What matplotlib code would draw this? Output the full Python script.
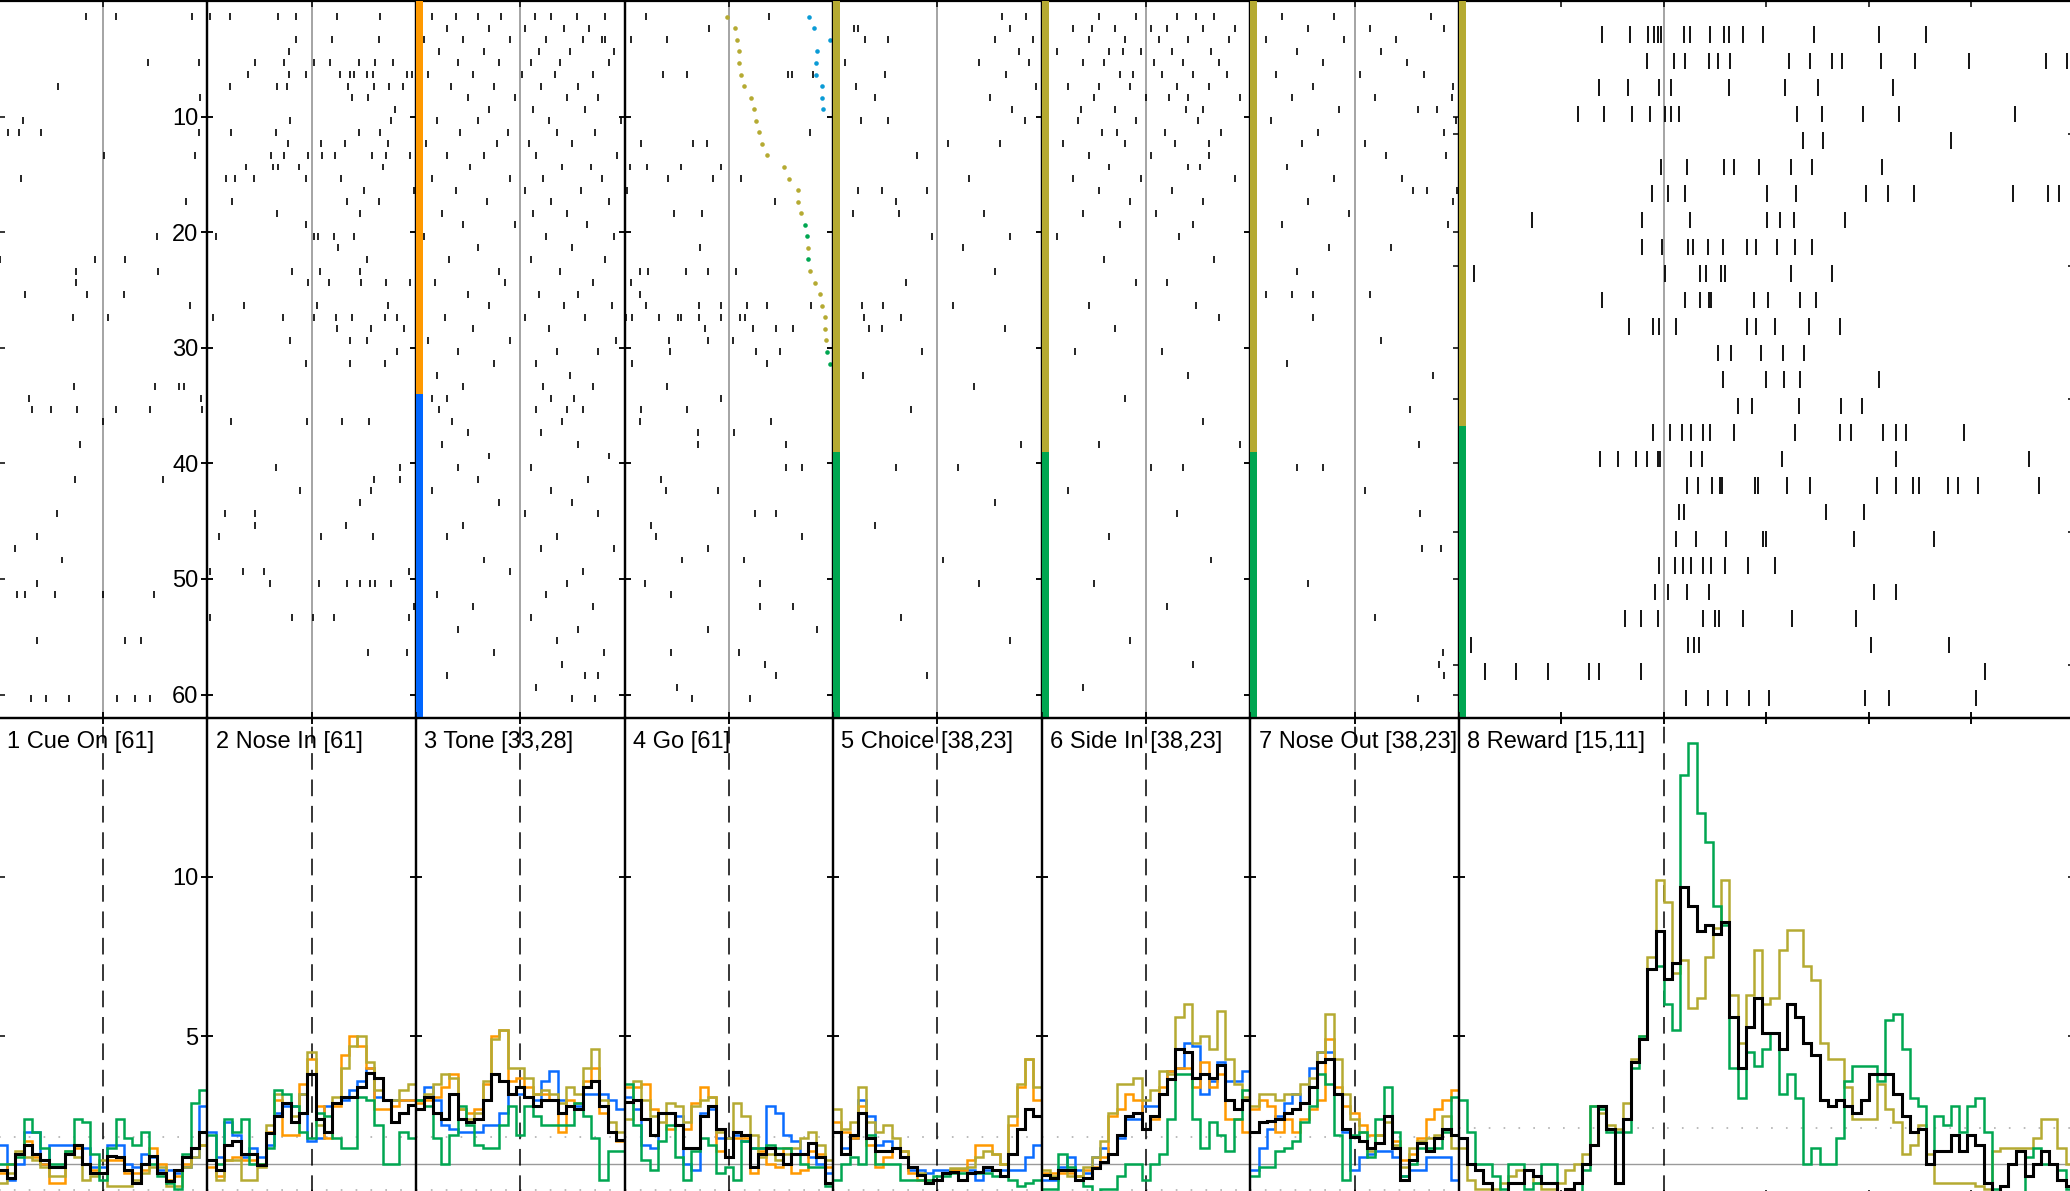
import numpy as np
import matplotlib.pyplot as plt

plt.rcParams['font.family'] = ['Liberation Sans', 'DejaVu Sans']
plt.rcParams['lines.scale_dashes'] = False

W, H = 2070, 1191

panel_titles = ['1 Cue On [61]', '2 Nose In [61]', '3 Tone [33,28]', '4 Go [61]',
                '5 Choice [38,23]', '6 Side In [38,23]', '7 Nose Out [38,23]', '8 Reward [15,11]']
n_trials = [61, 61, 61, 61, 61, 61, 61, 26]
# colour bar split (first group ends at this y) per panel
bar_split = [None, None, 34, None, 39, 39, 39, 16]
bar_colors = [None, None, ('#ff9900', '#0066ff'), None,
              ('#b5aa32', '#00a651'), ('#b5aa32', '#00a651'), ('#b5aa32', '#00a651'), ('#b5aa32', '#00a651')]

c_blue, c_orange, c_olive, c_green = '#0a6cff', '#ff9900', '#b5aa32', '#00a651'

# ---------------- raster spike times (s, relative to event) ----------------
cue_spikes = {1: [-0.16, 0.12, 0.85], 5: [0.43, 0.92], 7: [-0.43], 8: [0.93], 10: [-0.77],
              11: [-0.91, -0.81, -0.59, 0.92], 13: [0.01, 0.88], 15: [-0.79], 17: [0.80], 20: [0.52],
              22: [-0.99, -0.08, 0.21], 23: [-0.26, 0.53], 24: [-0.26], 25: [-0.75, -0.15, 0.20],
              26: [0.83], 27: [-0.29, 0.05], 33: [-0.28, 0.50, 0.73, 0.78], 34: [-0.71, 0.94],
              35: [-0.68, -0.50, -0.25, 0.12, 0.45, 0.95], 36: [0.0], 38: [-0.22], 41: [-0.27, 0.58],
              44: [-0.44], 46: [-0.63], 47: [-0.84], 48: [-0.39], 50: [-0.63],
              51: [-0.82, -0.75, -0.46, 0.0, 0.49], 55: [-0.63, 0.21, 0.36],
              60: [-0.69, -0.55, -0.33, 0.13, 0.31, 0.45]}

nosein_spikes = {1: [-0.97, -0.78, -0.32, -0.15, 0.24, 0.66], 3: [-0.15, 0.20, 0.65], 4: [-0.22],
                 5: [-0.54, -0.26, 0.02, 0.18, 0.45, 0.61, 0.78],
                 6: [-0.61, -0.22, -0.05, 0.27, 0.37, 0.41, 0.53, 0.59, 0.91, 0.96],
                 7: [-0.78, -0.33, -0.24, 0.35, 0.60, 0.74, 0.88], 8: [0.39, 0.54], 9: [0.80],
                 10: [-0.21, 0.76], 11: [-0.77, -0.34, 0.45, 0.66], 12: [-0.23, 0.09, 0.32, 0.73],
                 13: [-0.39, -0.26, -0.03, 0.10, 0.22, 0.58, 0.71, 0.94],
                 14: [-0.63, -0.37, -0.32, -0.12, 0.68], 15: [-0.82, -0.73, -0.55, -0.05, 0.28],
                 16: [0.50, 0.98], 17: [-0.76, 0.34, 0.65], 18: [-0.33, 0.46], 19: [-0.05],
                 20: [-0.92, 0.02, 0.06, 0.21, 0.41], 21: [0.25], 22: [0.53], 23: [-0.19, 0.08, 0.46],
                 24: [-0.03, 0.17, 0.47, 0.71, 0.94], 26: [-0.65, 0.05, 0.73],
                 27: [-0.95, -0.27, 0.02, 0.23, 0.39, 0.70, 0.82], 28: [0.24, 0.57, 0.89],
                 29: [-0.21, 0.37, 0.53], 30: [0.82], 31: [-0.05, 0.37, 0.70],
                 36: [-0.77, -0.04, 0.29, 0.55], 40: [-0.34, 0.85], 41: [0.60, 0.85], 42: [-0.11, 0.57],
                 43: [0.46], 44: [-0.83, -0.54], 45: [-0.54, 0.33], 46: [-0.89, 0.09, 0.59],
                 49: [-0.97, -0.66, -0.46, 0.93], 50: [-0.40, 0.07, 0.34, 0.46, 0.56, 0.61, 0.76],
                 52: [0.98], 53: [-0.97, -0.19, 0.01, 0.21, 0.93], 56: [0.54, 0.91]}

tone_spikes = {1: [-0.85, -0.62, -0.40, -0.18, 0.14, 0.30, 0.54, 0.81], 2: [-0.70, -0.30, 0.05, 0.42, 0.66],
               3: [-0.92, -0.55, -0.10, 0.25, 0.60, 0.78, 0.81], 4: [-0.78, -0.35, 0.18, 0.48, 0.90],
               5: [-0.60, -0.20, 0.10, 0.38, 0.85], 6: [-0.88, -0.45, 0.02, 0.33, 0.70],
               7: [-0.66, -0.25, 0.20, 0.55], 8: [-0.95, -0.50, -0.05, 0.45, 0.75], 9: [-0.30, 0.12, 0.62],
               10: [-0.80, -0.40, 0.28, 0.97], 11: [-0.58, -0.12, 0.35, 0.72], 12: [-0.90, -0.22, 0.08, 0.50],
               13: [-0.70, -0.35, 0.15, 0.93], 14: [-0.48, 0.40, 0.68], 15: [-0.85, -0.10, 0.22, 0.78],
               16: [-0.62, 0.05, 0.58], 17: [-0.32, 0.30, 0.85], 18: [-0.75, 0.12, 0.45],
               19: [-0.55, -0.05, 0.64], 20: [-0.92, 0.25, 0.90], 21: [-0.40, 0.50], 22: [-0.68, 0.10, 0.81],
               23: [-0.20, 0.38], 24: [-0.82, -0.15, 0.70], 25: [-0.50, 0.18, 0.55], 26: [-0.30, 0.42, 0.88],
               27: [-0.72, 0.05, 0.62], 28: [-0.45, 0.28], 29: [-0.88, -0.10, 0.92], 30: [-0.60, 0.35, 0.75],
               31: [-0.25, 0.15], 32: [-0.80, 0.48], 33: [-0.55, 0.22, 0.70], 34: [-0.85, -0.70, 0.30, 0.52],
               35: [-0.78, 0.15, 0.45, 0.60], 36: [-0.65, 0.40], 37: [-0.50, 0.20], 38: [-0.75, 0.55],
               39: [-0.30, 0.85], 40: [-0.60, 0.10], 41: [-0.40, 0.65], 42: [-0.85, 0.30], 43: [-0.20, 0.50],
               44: [0.05, 0.75], 45: [-0.55], 46: [-0.70, 0.35], 47: [0.20, 0.90], 48: [-0.35],
               49: [-0.10, 0.60], 50: [0.45], 51: [-0.80, 0.25], 52: [-0.45, 0.70], 53: [0.10],
               54: [-0.60, 0.55], 55: [0.35], 56: [-0.25, 0.80], 57: [0.40], 58: [-0.70, 0.62, 0.75],
               59: [0.15], 60: [0.50, 0.72]}

go_spikes = {1: [-0.79, 0.39], 2: [-0.19], 3: [-0.94, -0.59], 6: [-0.63, -0.40, 0.57, 0.61, 0.81],
             11: [0.78], 12: [-0.84, -0.34, -0.21], 14: [-0.95, -0.78, -0.46, -0.07],
             15: [-0.58, -0.15, 0.12], 16: [-0.98], 17: [0.44], 18: [-0.53, -0.26], 21: [-0.28],
             23: [-0.85, -0.77, -0.41, -0.20, 0.07], 24: [-0.94], 25: [-0.85],
             26: [-0.79, -0.29, -0.07, 0.17, 0.37, 0.79],
             27: [-0.99, -0.93, -0.67, -0.49, -0.46, -0.29, -0.07, 0.11, 0.16],
             28: [-0.23, 0.23, 0.45, 0.62], 29: [-0.57, -0.20, 0.04], 30: [-0.56, 0.26, 0.49],
             31: [-0.93, 0.37], 33: [-0.59], 34: [-0.07], 35: [-0.84, -0.40], 36: [-0.85, 0.40],
             37: [-0.30, 0.05], 38: [-0.30, 0.55], 40: [0.55, 0.70], 41: [-0.65], 42: [-0.60, -0.10],
             44: [0.25, 0.45], 45: [-0.75], 46: [-0.70, 0.70], 47: [-0.20], 48: [-0.45, 0.15],
             50: [-0.80, 0.30], 51: [-0.55], 52: [0.30, 0.62], 54: [-0.20, 0.85], 56: [-0.55, 0.10],
             57: [0.35], 58: [0.45], 59: [-0.50], 60: [-0.35, 0.20]}

choice_spikes = {1: [0.62, 0.85], 2: [-0.80, -0.76, 0.70], 3: [-0.69, -0.47, 0.55, 0.92], 4: [0.78],
                 5: [-0.89, 0.40, 0.88], 6: [-0.50, 0.66], 7: [-0.78, 0.95], 8: [-0.60, 0.50], 9: [0.72],
                 10: [-0.73, -0.47, 0.84], 12: [0.10, 0.60], 13: [-0.20], 15: [0.30],
                 16: [-0.76, -0.53, -0.10], 17: [-0.40], 18: [-0.81, -0.37, 0.45], 20: [-0.05, 0.70],
                 21: [0.25], 23: [0.55], 24: [-0.30], 25: [-0.94], 26: [-0.72, -0.52, 0.15],
                 27: [-0.70, -0.35], 28: [-0.66, -0.53, 0.65], 30: [-0.15], 32: [-0.71], 33: [0.35],
                 35: [-0.25], 38: [0.80], 40: [-0.40, 0.20], 43: [0.55], 45: [-0.60], 48: [0.05],
                 50: [0.40], 53: [-0.35], 55: [0.70], 58: [-0.10]}

sidein_spikes = {1: [-0.45, -0.10, 0.30, 0.48, 0.65], 2: [-0.70, -0.52, -0.30, 0.05, 0.20, 0.55, 0.85],
                 3: [-0.55, -0.20, 0.12, 0.40, 0.80], 4: [-0.85, -0.35, -0.22, -0.05, 0.25, 0.62],
                 5: [-0.60, -0.40, 0.08, 0.35, 0.70], 6: [-0.25, -0.12, 0.15, 0.45, 0.78],
                 7: [-0.75, -0.45, -0.15, 0.30, 0.60], 8: [-0.50, 0.00, 0.22, 0.40, 0.90],
                 9: [-0.62, -0.30, 0.38, 0.55], 10: [-0.65, -0.10, 0.50],
                 11: [-0.42, -0.28, 0.18, 0.72], 12: [-0.80, -0.20, 0.28, 0.60], 13: [-0.55, 0.05, 0.60],
                 14: [-0.35, 0.40, 0.52], 15: [-0.70, -0.05, 0.85], 16: [-0.45, 0.25], 17: [-0.15, 0.55],
                 18: [-0.60, 0.10], 19: [-0.25, 0.45], 20: [-0.85, 0.32], 22: [-0.40, 0.65],
                 24: [-0.10, 0.20], 26: [-0.55, 0.48], 27: [0.70], 28: [-0.30], 30: [-0.68, 0.15],
                 32: [0.40], 34: [-0.20], 36: [0.55], 38: [-0.45, 0.90], 40: [0.05, 0.35], 42: [-0.75],
                 44: [0.30], 46: [-0.35], 48: [0.62], 50: [-0.50], 52: [0.20], 55: [-0.15], 57: [0.45],
                 59: [-0.60]}

noseout_spikes = {1: [-0.70, -0.20, 0.73], 2: [-0.45, 0.15, 0.86], 3: [-0.85, -0.10, 0.40],
                  4: [-0.55, 0.25], 5: [-0.30, 0.50], 6: [-0.75, 0.05, 0.67], 7: [-0.40, 0.94],
                  8: [-0.60, 0.20, 0.93], 9: [-0.15, 0.61, 0.79], 10: [-0.80, 0.97], 11: [-0.35, 0.86],
                  12: [-0.50, 0.10], 13: [0.30, 0.88], 14: [-0.65], 15: [-0.20, 0.45],
                  16: [0.56, 0.69, 0.98], 17: [-0.45, 0.94], 18: [-0.05], 19: [-0.70, 0.90],
                  21: [-0.25, 0.35], 23: [-0.55], 25: [-0.85, -0.60, -0.40, 0.15], 27: [-0.40],
                  29: [0.25], 31: [-0.65], 32: [0.75], 35: [0.53], 38: [0.62], 40: [-0.30, -0.55],
                  42: [0.10], 44: [0.63], 47: [0.65, 0.83], 50: [-0.45], 53: [0.20], 56: [0.85],
                  57: [0.81], 58: [0.86], 60: [0.61]}

reward_spikes = {1: [-0.60, -0.33, -0.15, -0.10, -0.06, -0.03, 0.20, 0.26, 0.45, 0.59, 0.64, 0.77, 0.97, 1.47, 2.10, 2.56],
                 2: [-0.16, 0.10, 0.21, 0.44, 0.53, 0.65, 1.22, 1.43, 1.64, 1.74, 2.12, 2.45, 2.98, 3.73, 3.93],
                 3: [-0.63, -0.35, -0.05, 0.07, 0.64, 1.18, 1.50, 2.24],
                 4: [-0.84, -0.58, -0.31, -0.13, 0.01, 0.07, 0.15, 1.30, 1.54, 1.94, 2.29, 3.43],
                 5: [1.36, 1.55, 2.80],
                 6: [-0.03, 0.23, 0.59, 0.68, 0.93, 1.24, 1.45, 2.13],
                 7: [-0.12, 0.04, 0.21, 1.01, 1.29, 1.97, 2.19, 2.44, 3.41, 3.75, 3.86],
                 8: [-1.29, -0.21, 0.26, 1.01, 1.13, 1.27, 1.77],
                 9: [-0.21, -0.02, 0.24, 0.28, 0.43, 0.58, 0.81, 0.90, 1.10, 1.28, 1.45],
                 10: [-1.85, 0.01, 0.35, 0.41, 0.56, 0.60, 1.24, 1.64],
                 11: [-0.60, 0.21, 0.35, 0.44, 0.46, 0.88, 1.02, 1.33, 1.48],
                 12: [-0.34, -0.11, -0.05, 0.12, 0.81, 0.90, 1.08, 1.42, 1.72],
                 13: [0.53, 0.66, 0.95, 1.16, 1.37],
                 14: [0.58, 1.00, 1.17, 1.33, 2.10],
                 15: [0.72, 0.86, 1.32, 1.73, 1.93],
                 16: [-0.11, 0.06, 0.18, 0.27, 0.38, 0.45, 0.68, 1.28, 1.72, 1.83, 2.14, 2.27, 2.36, 2.93],
                 17: [-0.62, -0.45, -0.27, -0.16, -0.06, -0.04, 0.27, 0.37, 1.15, 2.27, 3.56],
                 18: [0.23, 0.33, 0.47, 0.55, 0.57, 0.89, 0.92, 1.20, 1.43, 2.08, 2.27, 2.43, 2.49, 2.77, 2.87, 3.07, 3.66],
                 19: [0.15, 0.20, 1.58, 1.95],
                 20: [0.12, 0.31, 0.61, 0.97, 1.00, 1.86, 2.64],
                 21: [-0.05, 0.11, 0.19, 0.27, 0.38, 0.46, 0.60, 0.82, 1.08],
                 22: [-0.09, 0.04, 0.23, 0.44, 2.05, 2.27],
                 23: [-0.38, -0.22, -0.06, 0.38, 0.50, 0.54, 0.77, 1.25, 1.88],
                 24: [-1.88, 0.24, 0.29, 0.34, 2.02, 2.78],
                 25: [-1.74, -1.44, -1.13, -0.73, -0.63, -0.22, 3.13],
                 26: [0.22, 0.43, 0.62, 0.83, 1.03, 1.96, 2.20, 3.05]}

raster_data = [cue_spikes, nosein_spikes, tone_spikes, go_spikes,
               choice_spikes, sidein_spikes, noseout_spikes, reward_spikes]

# event markers in the Go panel (trial -> time)
go_dots_olive = {1: -0.02, 2: 0.06, 3: 0.08, 4: 0.10, 5: 0.10, 6: 0.12, 7: 0.15, 8: 0.21, 9: 0.24,
                 10: 0.26, 11: 0.29, 12: 0.32, 13: 0.37, 14: 0.53, 15: 0.58, 16: 0.66, 17: 0.66,
                 18: 0.69, 21: 0.76, 23: 0.78, 24: 0.83, 25: 0.87, 26: 0.89, 27: 0.92, 28: 0.92, 29: 0.93}
go_dots_green = {19: 0.73, 20: 0.75, 22: 0.76, 30: 0.94, 31: 0.97}
go_dots_blue = {1: 0.77, 2: 0.82, 3: 0.97, 4: 0.85, 5: 0.84, 6: 0.84, 7: 0.89, 8: 0.89, 9: 0.90}

# ---------------- PSTH (Hz), 0.08 s bins ----------------
psth_black = [
    [0.8, 0.55, 1.3, 1.6, 1.3, 1.1, 0.9, 0.9, 1.3, 1.6, 1.0, 0.7, 0.7, 1.25, 1.2, 0.8, 0.4, 1.0, 1.25, 0.7, 0.45, 0.8, 1.2, 1.5, 2.0],
    [1.1, 0.8, 1.6, 1.7, 1.3, 1.3, 0.95, 1.95, 2.5, 2.9, 2.3, 2.6, 3.8, 2.4, 2.0, 2.9, 3.1, 3.1, 3.4, 3.85, 3.7, 3.0, 2.3, 2.6, 2.85],
    [2.7, 3.1, 2.6, 2.4, 3.2, 2.4, 2.3, 2.4, 3.0, 3.8, 3.6, 3.2, 3.4, 3.1, 2.8, 3.0, 3.0, 2.6, 2.8, 2.7, 3.4, 3.6, 2.8, 2.0, 1.75],
    [2.95, 3.0, 2.4, 1.9, 2.6, 2.6, 2.2, 1.5, 1.5, 2.5, 2.8, 2.1, 1.2, 2.0, 1.9, 0.9, 1.3, 1.5, 1.3, 1.0, 1.3, 1.3, 1.65, 1.2, 0.4],
    [2.0, 1.3, 1.9, 2.6, 1.8, 1.4, 1.4, 1.5, 1.2, 0.9, 0.65, 0.4, 0.5, 0.7, 0.75, 0.5, 0.7, 0.75, 0.9, 0.8, 0.6, 1.3, 2.1, 2.7, 2.5],
    [0.65, 0.55, 0.8, 0.8, 0.5, 0.55, 0.85, 1.05, 1.3, 1.9, 2.5, 2.6, 2.1, 2.5, 3.2, 3.65, 4.6, 4.5, 3.7, 3.8, 3.7, 4.1, 3.0, 2.7, 3.0],
    [2.0, 2.3, 2.35, 2.4, 2.6, 2.7, 2.9, 3.4, 4.2, 4.3, 3.2, 2.1, 1.85, 1.7, 1.5, 1.65, 2.5, 1.5, 0.5, 1.1, 1.65, 1.4, 1.8, 2.1, 1.9],
    [1.8, 1.0, 0.8, 0.4, 0.1, 0.1, 0.4, 0.4, 0.8, 0.6, 0.4, 0.4, 0.1, 0.2, 0.4, 1.0, 1.6, 2.8, 2.1, 0.4, 2.4, 4.2, 4.9, 7.1, 8.3,
     6.8, 7.3, 9.7, 9.1, 8.3, 8.5, 8.2, 8.6, 5.6, 4.0, 5.3, 6.2, 5.1, 5.1, 4.6, 6.0, 5.6, 4.8, 4.4, 3.0, 2.8, 3.0, 2.8, 2.6, 3.0,
     3.8, 3.8, 3.8, 3.2, 2.5, 2.0, 2.1, 1.0, 1.4, 1.4, 1.9, 1.4, 1.9, 1.6, 0.4, 0.1, 0.3, 1.0, 1.4, 0.6, 1.0, 1.4, 1.0, 0.5, 0.3]]
psth_orange = [
    [0.7, 1.0, 1.3, 1.7, 1.2, 1.0, 0.4, 0.4, 1.3, 1.5, 1.0, 0.8, 0.7, 1.1, 1.1, 0.7, 0.7, 0.8, 1.5, 1.0, 0.5, 0.6, 1.0, 1.5, 1.6],
    [0.9, 0.6, 1.1, 1.2, 1.1, 1.1, 1.0, 2.0, 3.0, 1.9, 1.9, 3.5, 4.3, 2.8, 1.8, 2.8, 4.4, 5.0, 4.7, 4.0, 2.7, 2.7, 2.8, 3.0, 3.0],
    [2.9, 3.0, 3.1, 3.4, 3.8, 2.7, 2.6, 2.7, 3.5, 5.0, 5.2, 3.6, 3.7, 3.4, 3.2, 3.2, 3.0, 2.0, 3.0, 2.9, 3.6, 4.0, 2.6, 2.0, 1.7],
    [3.4, 3.4, 3.5, 2.7, 2.6, 2.1, 2.2, 2.1, 2.9, 3.4, 3.1, 1.4, 1.2, 1.8, 1.8, 0.7, 1.4, 1.0, 0.9, 1.5, 0.7, 0.8, 1.4, 1.3, 0.9],
    [2.3, 2.0, 1.8, 2.8, 1.6, 0.9, 1.2, 1.5, 1.4, 0.7, 0.5, 0.5, 0.5, 0.7, 0.8, 0.8, 1.1, 1.6, 1.6, 1.3, 1.0, 2.2, 3.4, 4.3, 3.0],
    [0.7, 0.7, 0.7, 0.7, 0.6, 0.8, 0.9, 1.2, 2.5, 2.7, 3.2, 3.0, 2.1, 2.4, 3.4, 3.9, 4.0, 4.0, 3.4, 4.2, 3.4, 3.8, 2.4, 2.4, 2.0],
    [2.7, 3.0, 2.8, 2.0, 2.4, 2.0, 2.4, 2.7, 3.0, 4.9, 3.4, 2.8, 2.6, 2.2, 1.9, 1.9, 2.5, 1.7, 1.1, 1.3, 1.8, 2.4, 2.7, 3.0, 3.3],
    None]
psth_olive = [
    [0.4, 0.7, 1.4, 1.2, 1.1, 0.9, 0.6, 0.6, 1.4, 1.2, 0.5, 0.6, 1.1, 0.3, 0.3, 0.3, 0.5, 0.7, 0.9, 0.9, 0.3, 0.3, 0.9, 1.2, 1.6],
    [1.1, 0.5, 1.1, 1.1, 0.5, 0.5, 0.9, 2.2, 3.2, 2.9, 2.5, 3.2, 4.5, 2.2, 2.0, 3.1, 4.0, 4.7, 5.0, 4.2, 3.3, 3.0, 3.0, 3.3, 3.5],
    [3.0, 3.2, 3.5, 3.8, 3.7, 2.7, 2.4, 2.6, 3.6, 4.9, 5.2, 4.0, 4.0, 3.7, 3.2, 3.3, 3.2, 2.9, 3.4, 3.2, 4.0, 4.6, 3.0, 2.3, 2.0],
    [2.4, 3.6, 3.0, 2.5, 2.3, 2.9, 2.8, 2.3, 2.8, 3.0, 3.1, 2.0, 1.8, 2.9, 2.5, 1.9, 1.2, 1.3, 1.1, 1.3, 1.5, 1.8, 2.0, 1.6, 1.1],
    [2.7, 2.1, 2.3, 3.4, 2.3, 2.0, 2.2, 1.8, 1.4, 0.9, 0.7, 0.5, 0.5, 0.7, 0.85, 0.85, 0.9, 1.2, 1.4, 1.3, 1.0, 2.5, 3.5, 4.3, 3.4],
    [0.8, 0.6, 0.8, 0.6, 0.6, 0.9, 1.2, 1.7, 2.6, 3.5, 3.5, 3.7, 3.0, 3.3, 3.9, 3.8, 5.6, 6.0, 4.8, 5.0, 4.6, 5.8, 4.3, 3.5, 3.1],
    [2.8, 3.2, 3.2, 3.0, 3.2, 3.2, 3.5, 3.7, 4.5, 5.7, 4.3, 3.2, 2.4, 2.0, 1.4, 1.9, 2.3, 1.6, 0.9, 1.5, 1.7, 1.8, 1.9, 2.5, 1.5],
    [1.5, 0.5, 0.2, 0.2, 0.2, 0.4, 0.6, 0.8, 0.8, 0.4, 0.2, 0.2, 0.4, 0.8, 1.0, 1.3, 2.8, 2.6, 2.2, 2.1, 2.9, 4.3, 5.0, 7.5, 9.9,
     9.2, 7.0, 7.4, 5.9, 6.2, 7.5, 8.4, 9.9, 6.3, 4.8, 6.3, 7.7, 6.0, 6.2, 7.7, 8.35, 8.35, 7.2, 6.75, 4.8, 4.3, 4.3, 3.4, 2.4, 2.4,
     2.4, 3.5, 2.7, 2.3, 1.3, 1.6, 2.2, 1.3, 0.4, 0.4, 0.4, 0.4, 0.4, 0.3, 0.2, 1.4, 1.5, 1.5, 1.5, 1.5, 1.8, 2.4, 2.4, 1.5, 1.0]]
psth_blue = [
    [1.6, 0.5, 1.0, 2.0, 2.0, 1.0, 1.6, 1.6, 1.6, 1.6, 1.5, 0.9, 0.9, 1.6, 1.6, 1.0, 0.9, 1.3, 1.2, 0.8, 0.8, 0.7, 0.9, 1.2, 2.8],
    [2.0, 1.2, 2.3, 1.9, 1.2, 1.5, 1.2, 1.6, 2.6, 2.8, 2.8, 3.2, 1.7, 1.8, 2.8, 2.9, 3.0, 3.3, 3.6, 4.0, 3.1, 3.0, 3.0, 3.0, 3.0],
    [3.0, 3.4, 3.0, 2.2, 2.1, 2.0, 2.0, 2.0, 2.2, 2.2, 2.6, 3.2, 3.2, 3.1, 3.0, 3.6, 3.9, 3.0, 2.8, 2.8, 3.2, 3.2, 3.2, 3.0, 2.7],
    [3.1, 2.7, 1.6, 1.5, 2.6, 2.6, 2.5, 1.0, 0.8, 2.6, 2.7, 1.8, 1.8, 1.9, 1.7, 1.5, 1.5, 2.8, 2.6, 1.9, 1.7, 1.3, 1.2, 1.0, 0.7],
    [2.0, 1.5, 1.8, 3.0, 2.5, 1.6, 1.7, 1.5, 1.2, 0.8, 0.8, 0.7, 0.8, 0.8, 0.8, 0.8, 0.8, 0.5, 0.8, 0.8, 0.8, 0.8, 0.8, 1.2, 1.6],
    [0.5, 0.5, 0.9, 1.2, 0.8, 0.7, 1.2, 1.5, 1.3, 1.8, 2.4, 2.4, 2.8, 2.8, 3.2, 3.9, 4.0, 4.8, 4.7, 3.2, 3.6, 4.2, 3.6, 3.6, 3.9],
    [0.8, 1.5, 2.1, 2.5, 2.9, 3.2, 2.9, 4.0, 4.5, 4.5, 3.2, 2.0, 0.8, 1.2, 1.3, 1.4, 1.4, 1.2, 0.6, 0.8, 0.8, 1.2, 1.2, 1.2, 0.5],
    None]
psth_green = [
    [1.0, 1.0, 1.2, 2.4, 2.0, 1.5, 1.0, 1.0, 1.4, 2.4, 2.3, 1.3, 0.5, 1.5, 2.4, 1.8, 1.6, 2.0, 1.0, 0.6, 0.4, 0.2, 1.3, 2.9, 3.3],
    [1.9, 1.0, 2.4, 2.0, 2.4, 1.0, 1.0, 1.5, 3.3, 3.2, 2.8, 2.0, 1.8, 2.6, 2.5, 1.8, 1.5, 1.5, 3.1, 3.0, 2.2, 1.0, 1.0, 2.0, 1.8],
    [3.0, 2.8, 1.8, 1.0, 1.9, 2.8, 2.2, 1.6, 1.5, 1.5, 2.2, 2.8, 1.9, 2.8, 2.5, 2.2, 2.2, 2.2, 2.2, 2.9, 2.5, 1.8, 0.5, 1.4, 1.4],
    [3.5, 2.2, 1.1, 0.8, 1.7, 2.2, 1.2, 0.5, 1.4, 1.8, 1.6, 0.7, 0.9, 0.5, 1.7, 1.5, 1.5, 1.6, 1.5, 1.5, 1.3, 1.0, 0.9, 0.9, 0.3],
    [0.5, 1.0, 1.2, 1.0, 1.9, 1.0, 1.0, 1.0, 0.5, 0.5, 0.5, 0.5, 0.6, 0.6, 0.7, 0.7, 0.7, 0.7, 0.7, 0.6, 0.6, 0.5, 0.3, 0.4, 0.5],
    [0.2, 0.2, 1.3, 0.9, 0.5, 0.3, 0.1, 0.2, 0.2, 0.6, 1.0, 1.0, 0.5, 1.0, 1.3, 2.4, 3.8, 3.8, 2.4, 1.5, 2.3, 1.9, 1.4, 2.4, 3.3],
    [0.6, 0.9, 0.9, 1.4, 1.5, 1.7, 2.3, 2.8, 3.8, 3.5, 1.9, 0.5, 1.9, 2.0, 1.2, 2.4, 3.4, 2.0, 0.6, 1.0, 1.5, 1.5, 1.5, 2.0, 3.1],
    [3.0, 2.0, 1.0, 1.0, 0.6, 0.2, 1.0, 1.0, 0.2, 0.4, 1.0, 1.0, 0.1, 0.1, 0.1, 0.8, 2.8, 2.7, 2.0, 2.0, 2.0, 4.0, 5.0, 7.1, 7.2,
     6.0, 5.2, 13.2, 14.2, 12.0, 11.1, 9.1, 8.5, 4.0, 3.05, 4.5, 4.05, 4.6, 5.1, 3.2, 3.8, 3.05, 1.0, 1.5, 1.0, 1.0, 1.8, 3.6, 4.05, 4.05,
     4.05, 3.6, 5.5, 5.7, 4.6, 3.05, 2.8, 1.0, 2.5, 2.2, 2.8, 2.0, 2.8, 3.05, 2.0, 0.2, 0.1, 0.1, 0.1, 1.2, 1.5, 1.0, 1.0, 0.8, 0.2]]

baseline_mean = 1.0
baseline_band = [(0.17, 1.83)] * 7 + [(-0.13, 2.13)]
bin_w = 0.08

# ---------------- layout (pixels) ----------------
panel_left = [-1.3 + 208.6 * k for k in range(7)] + [1458.8]
panel_xlim = [(-1, 1)] * 7 + [(-2, 4)]
panel_width = [208.6] * 7 + [615.0]
split_px = 717.7

fig = plt.figure(figsize=(W / 100, H / 100), dpi=100)

for k in range(8):
    x0 = panel_left[k] / W
    w = panel_width[k] / W
    ax_r = fig.add_axes([x0, (H - split_px) / H, w, (split_px - 1) / H])
    ax_p = fig.add_axes([x0, -4.5 / H, w, 477.8 / H])
    lo, hi = panel_xlim[k]
    n = n_trials[k]

    # raster
    is_rew = k == 7
    off0, off1 = (-0.05, 0.57) if is_rew else (0.06, 0.66)
    for row, times in raster_data[k].items():
        ax_r.vlines(times, row + off0, row + off1, color='black', lw=1.3 if is_rew else 1.2)
    ax_r.axvline(0, color='#8c8c8c', lw=1.1, zorder=0.5)
    if bar_split[k] is not None:
        bw = 6.8 / (panel_width[k] / (hi - lo))
        c1, c2 = bar_colors[k]
        ax_r.fill_betweenx([0, bar_split[k]], lo, lo + bw, color=c1, lw=0, zorder=3)
        ax_r.fill_betweenx([bar_split[k], n + 1], lo, lo + bw, color=c2, lw=0, zorder=3)
    if k == 3:
        for dots, c in [(go_dots_olive, c_olive), (go_dots_green, c_green), (go_dots_blue, '#0a9bd6')]:
            rows = list(dots.keys())
            ax_r.plot([dots[r] for r in rows], [r + 0.36 for r in rows], 'o', ms=3.3, color=c, mec='none')
    ax_r.set_xlim(lo, hi)
    ax_r.set_ylim(n + 1, 0)
    ax_r.set_yticks([5, 10, 15, 20, 25] if is_rew else [10, 20, 30, 40, 50, 60])

    # psth
    edges = np.arange(lo, hi + bin_w / 2, bin_w)
    for series, c, lw in [(psth_blue, c_blue, 1.8), (psth_orange, c_orange, 1.8),
                          (psth_olive, c_olive, 1.8), (psth_green, c_green, 1.8),
                          (psth_black, 'black', 2.2)]:
        if series[k] is not None:
            ax_p.stairs(series[k], edges, baseline=None, color=c, lw=lw)
    ax_p.axhline(baseline_mean, color='#9a9a9a', lw=1.0, zorder=0.5)
    for yb in baseline_band[k]:
        ax_p.axhline(yb, color='#a8a8a8', lw=1.1, dashes=(1.2, 9.5), zorder=0.5)
    ax_p.axvline(0, color='black', lw=1.1, dashes=(12, 7), zorder=0.6)
    ax_p.set_xlim(lo, hi)
    ax_p.set_ylim(0, 15)
    ax_p.set_yticks([5, 10])
    ax_p.annotate(panel_titles[k], xy=(0, 1), xycoords='axes fraction', xytext=(6, -17.5),
                  textcoords='offset points', ha='left', va='center', fontsize=17)

    for ax in (ax_r, ax_p):
        ax.set_xticks(np.arange(lo, hi + 0.5, 1))
        ax.tick_params(axis='both', which='both', direction='inout', length=8.6, width=1.1,
                       top=True, right=True, labelbottom=False, labelleft=(k == 1),
                       labelsize=17, pad=2)
        for sp in ax.spines.values():
            sp.set_linewidth(1.6)
        ax.patch.set_alpha(0)

fig.savefig('out.png', dpi=100)
